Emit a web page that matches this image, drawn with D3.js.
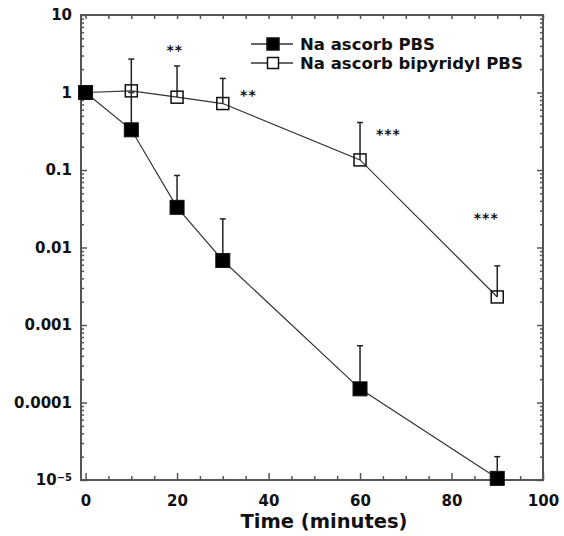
<!DOCTYPE html>
<html>
<head>
<meta charset="utf-8">
<script src="https://cdn.jsdelivr.net/npm/d3@7"></script>
<style>
  body { margin: 0; background: #fff; }
  text { font-family: "DejaVu Sans", Verdana, sans-serif; font-weight: bold; fill: #111; }
</style>
</head>
<body>
<div id="chart"></div>
<script>
// time points (minutes)
var times = [0, 10, 20, 30, 60, 90];

// Na ascorb PBS (filled squares)
var ascorbValues = [1, 0.33, 0.033, 0.0068, 0.00015, 1.05e-5];
var ascorbUpper  = [null, 1.0, 0.085, 0.0234, 0.00054, 2.0e-5];

// Na ascorb bipyridyl PBS (open squares)
var bipyValues = [1, 1.05, 0.87, 0.72, 0.135, 0.0023];
var bipyUpper  = [null, 2.7, 2.2, 1.52, 0.41, 0.0058];

var seriesNames = ["Na ascorb PBS", "Na ascorb bipyridyl PBS"];

// significance marks
var starTimes  = [19.5, 35.6, 66.2, 87.6];
var starValues = [3.9, 1.02, 0.318, 0.026];
var starLabels = ["**", "**", "***", "***"];

// axis ticks
var xTickValues = [0, 20, 40, 60, 80, 100];
var yTickValues = [10, 1, 0.1, 0.01, 0.001, 0.0001, 1e-5];
var yTickLabels = ["10", "1", "0.1", "0.01", "0.001", "0.0001", "10^-5"];

var width = 564, height = 536;
var plotL = 81, plotR = 543, plotT = 15, plotB = 480;

var svg = d3.select("#chart").append("svg")
    .attr("width", width)
    .attr("height", height);

var x = d3.scaleLinear().domain([-1, 100]).range([plotL, plotR]);
var y = d3.scaleLog().domain([1e-5, 10]).range([plotB, plotT]);

// minor y ticks: 2..9 of every decade
var yMinor = [];
for (var e = -5; e < 1; e++) {
    for (var m = 2; m <= 9; m++) yMinor.push(m * Math.pow(10, e));
}
var xMinor = d3.range(0, 101, 5).filter(function (d) { return d % 20 !== 0; });

var axisColor = "#555";

function styleAxis(g) {
    g.select(".domain").remove();
    g.selectAll(".tick line").attr("stroke", axisColor).attr("stroke-width", 1.5);
    g.selectAll(".tick text").style("font-size", "15px").attr("fill", "#111");
}

// bottom axis
svg.append("g").attr("transform", "translate(0," + plotB + ")")
    .call(d3.axisBottom(x).tickValues(xTickValues).tickSize(-7).tickPadding(15)
        .tickFormat(d3.format("d")))
    .call(styleAxis);
svg.append("g").attr("transform", "translate(0," + plotB + ")")
    .call(d3.axisBottom(x).tickValues(xMinor).tickSize(-4).tickFormat(""))
    .call(styleAxis);

// top axis (ticks only)
svg.append("g").attr("transform", "translate(0," + plotT + ")")
    .call(d3.axisTop(x).tickValues(d3.range(0, 101, 5)).tickSize(-4).tickFormat(""))
    .call(styleAxis);

// left axis
var leftAxis = svg.append("g").attr("transform", "translate(" + plotL + ",0)")
    .call(d3.axisLeft(y).tickValues(yTickValues).tickSize(-6).tickPadding(9)
        .tickFormat(function () { return ""; }))
    .call(styleAxis);
leftAxis.selectAll(".tick text").each(function (d, i) {
    var t = d3.select(this);
    var lab = yTickLabels[i];
    if (lab.indexOf("^") >= 0) {
        var parts = lab.split("^");
        t.text(parts[0]);
        t.append("tspan").attr("dy", "-0.45em").style("font-size", "10px").text(parts[1].replace("-", "\u2212"));
    } else {
        t.text(lab);
    }
});
svg.append("g").attr("transform", "translate(" + plotL + ",0)")
    .call(d3.axisLeft(y).tickValues(yMinor).tickSize(-3).tickFormat(""))
    .call(styleAxis);

// right axis (ticks only)
svg.append("g").attr("transform", "translate(" + plotR + ",0)")
    .call(d3.axisRight(y).tickValues(yTickValues).tickSize(-6).tickFormat(""))
    .call(styleAxis);
svg.append("g").attr("transform", "translate(" + plotR + ",0)")
    .call(d3.axisRight(y).tickValues(yMinor).tickSize(-3).tickFormat(""))
    .call(styleAxis);

// frame
svg.append("rect")
    .attr("x", plotL).attr("y", plotT)
    .attr("width", plotR - plotL).attr("height", plotB - plotT)
    .attr("fill", "none").attr("stroke", axisColor).attr("stroke-width", 2);

// x axis title
svg.append("text")
    .attr("x", 324).attr("y", 528)
    .attr("text-anchor", "middle")
    .style("font-size", "19.5px")
    .text("Time (minutes)");

var line = d3.line()
    .x(function (d) { return x(d.t); })
    .y(function (d) { return y(d.v); });

function makeSeries(vals, upper) {
    return times.map(function (t, i) { return { t: t, v: vals[i], up: upper[i] }; });
}
var ascorb = makeSeries(ascorbValues, ascorbUpper);
var bipy = makeSeries(bipyValues, bipyUpper);

function drawSeries(data, filled) {
    var g = svg.append("g");
    g.append("path").datum(data)
        .attr("d", line)
        .attr("fill", "none")
        .attr("stroke", "#333")
        .attr("stroke-width", 1.2);

    var eb = data.filter(function (d) { return d.up != null; });
    g.selectAll(".eb").data(eb).enter().append("line")
        .attr("x1", function (d) { return x(d.t); })
        .attr("x2", function (d) { return x(d.t); })
        .attr("y1", function (d) { return y(d.v); })
        .attr("y2", function (d) { return y(d.up); })
        .attr("stroke", "#222").attr("stroke-width", 1.5);
    g.selectAll(".cap").data(eb).enter().append("line")
        .attr("x1", function (d) { return x(d.t) - 3; })
        .attr("x2", function (d) { return x(d.t) + 3; })
        .attr("y1", function (d) { return y(d.up); })
        .attr("y2", function (d) { return y(d.up); })
        .attr("stroke", "#222").attr("stroke-width", 1.5);

    var s = filled ? 14 : 12;
    g.selectAll(".pt").data(data).enter().append("rect")
        .attr("x", function (d) { return x(d.t) - s / 2; })
        .attr("y", function (d) { return y(d.v) - s / 2; })
        .attr("width", s).attr("height", s)
        .attr("fill", filled ? "#000" : "none")
        .attr("stroke", "#111")
        .attr("stroke-width", filled ? 1 : 1.5);
}

drawSeries(bipy, false);
drawSeries(ascorb, true);

// stars
svg.selectAll(".star").data(starLabels).enter().append("text")
    .attr("x", function (d, i) { return x(starTimes[i]); })
    .attr("y", function (d, i) { return y(starValues[i]) + 8; })
    .attr("text-anchor", "middle")
    .style("font-size", "14px")
    .style("letter-spacing", "1px")
    .text(function (d) { return d; });

// legend
var legend = svg.append("g");
seriesNames.forEach(function (name, i) {
    var ly = 44 + i * 19;
    legend.append("line")
        .attr("x1", 251).attr("x2", 293)
        .attr("y1", ly).attr("y2", ly)
        .attr("stroke", "#333").attr("stroke-width", 1.5);
    var s = i === 0 ? 12 : 11;
    legend.append("rect")
        .attr("x", 273 - s / 2).attr("y", ly - s / 2)
        .attr("width", s).attr("height", s)
        .attr("fill", i === 0 ? "#000" : "#fff")
        .attr("stroke", "#111").attr("stroke-width", 1.5);
    legend.append("text")
        .attr("x", 300).attr("y", ly + 6)
        .style("font-size", "16.5px")
        .text(name);
});
</script>
</body>
</html>
